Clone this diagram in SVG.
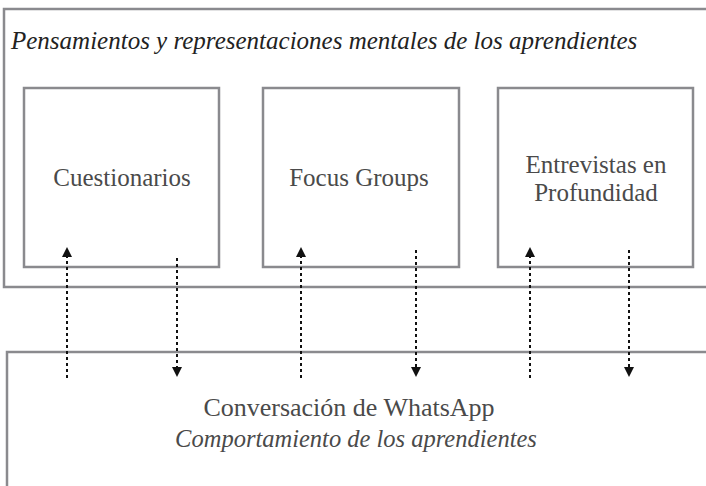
<svg xmlns="http://www.w3.org/2000/svg" width="706" height="486" viewBox="0 0 706 486">
<defs>
<style>
.box{fill:none;stroke:#8a8a8e;stroke-width:2.5}
.t{font-family:"Liberation Serif",serif;font-size:25px;fill:#4a4a4a;text-anchor:middle}
.it{font-style:italic}
.c{stroke:#111;stroke-width:2;stroke-dasharray:3 3;fill:none}
.h{fill:#111}
</style>
</defs>
<rect width="706" height="486" fill="#fff"/>
<g id="top">
<rect class="box" x="4" y="9" width="720" height="278"/>
<text class="t it" x="11" y="49" style="text-anchor:start;fill:#222">Pensamientos y representaciones mentales de los aprendientes</text>
</g>
<g id="cuestionarios">
<rect class="box" x="24" y="88" width="195" height="179"/>
<text class="t" x="122" y="186">Cuestionarios</text>
</g>
<g id="focus">
<rect class="box" x="263" y="88" width="196" height="179"/>
<text class="t" x="359" y="186">Focus Groups</text>
</g>
<g id="entrevistas">
<rect class="box" x="498" y="88" width="195" height="179"/>
<text class="t" x="596" y="173">Entrevistas en</text>
<text class="t" x="596" y="201">Profundidad</text>
</g>
<g id="whatsapp">
<rect class="box" x="7" y="352" width="720" height="160"/>
<text class="t" x="349" y="416" style="font-size:26px">Conversación de WhatsApp</text>
<text class="t it" x="356" y="447" style="font-size:24.5px">Comportamiento de los aprendientes</text>
</g>
<g id="connectors">
<path class="c" d="M67,378 V257"/>
<path class="h" d="M62,257 L67,247 L72,257 Z"/>
<path class="c" d="M177,258 V367"/>
<path class="h" d="M172,367 L177,377 L182,367 Z"/>
<path class="c" d="M301,378 V257"/>
<path class="h" d="M296,257 L301,247 L306,257 Z"/>
<path class="c" d="M416,250 V367"/>
<path class="h" d="M411,367 L416,377 L421,367 Z"/>
<path class="c" d="M530,378 V257"/>
<path class="h" d="M525,257 L530,247 L535,257 Z"/>
<path class="c" d="M629,250 V367"/>
<path class="h" d="M624,367 L629,377 L634,367 Z"/>
</g>
</svg>
